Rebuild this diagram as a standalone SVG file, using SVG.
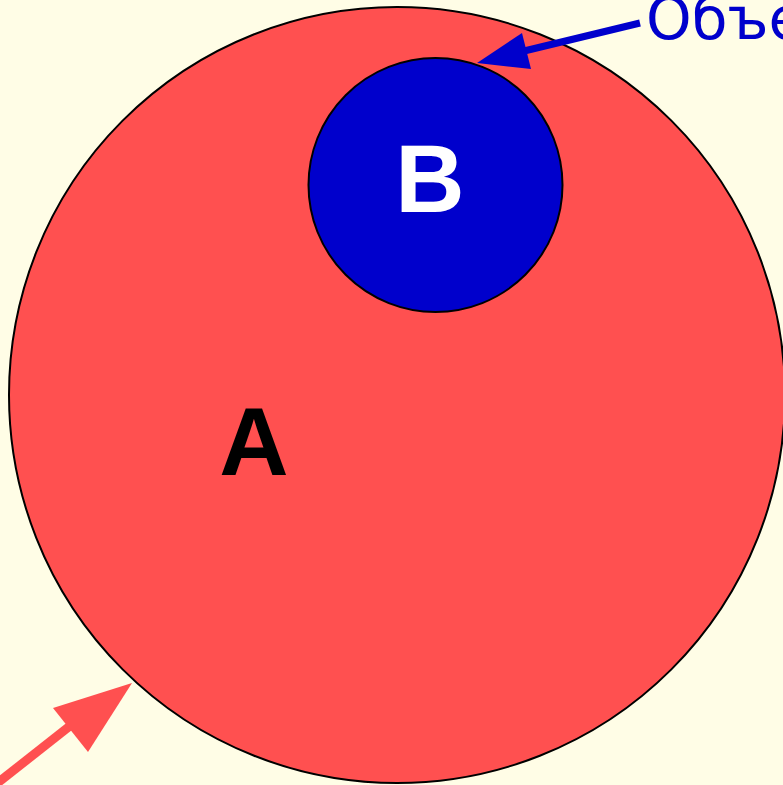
<svg xmlns="http://www.w3.org/2000/svg" width="783" height="785" viewBox="0 0 783 785">
<style>
.lbl{font-family:"Liberation Sans",Arial,sans-serif;font-weight:bold;font-size:96px;text-anchor:middle}
.note{font-family:"DejaVu Sans",sans-serif;font-size:58px;fill:#0000cc}
</style>
<rect width="783" height="785" fill="#fffde6"/>
<g id="A">
<circle cx="397" cy="395" r="388" fill="#ff5050" stroke="#000" stroke-width="2"/>
<text class="lbl" x="254" y="475" fill="#000">A</text>
</g>
<g id="B">
<circle cx="435.5" cy="185" r="127" fill="#0000cc" stroke="#000" stroke-width="2"/>
<text class="lbl" x="430" y="212" fill="#fff">B</text>
</g>
<g id="label">
<text class="note" x="646" y="39">Объе</text>
</g>
<g id="connectors">
<line x1="640" y1="23" x2="520" y2="52" stroke="#0000cc" stroke-width="7"/>
<polygon points="477,63 522,33 531,69" fill="#0000cc"/>
<line x1="-5" y1="785" x2="80" y2="718" stroke="#ff5050" stroke-width="9"/>
<polygon points="132,683 53,708 88,752" fill="#ff5050"/>
</g>
</svg>
